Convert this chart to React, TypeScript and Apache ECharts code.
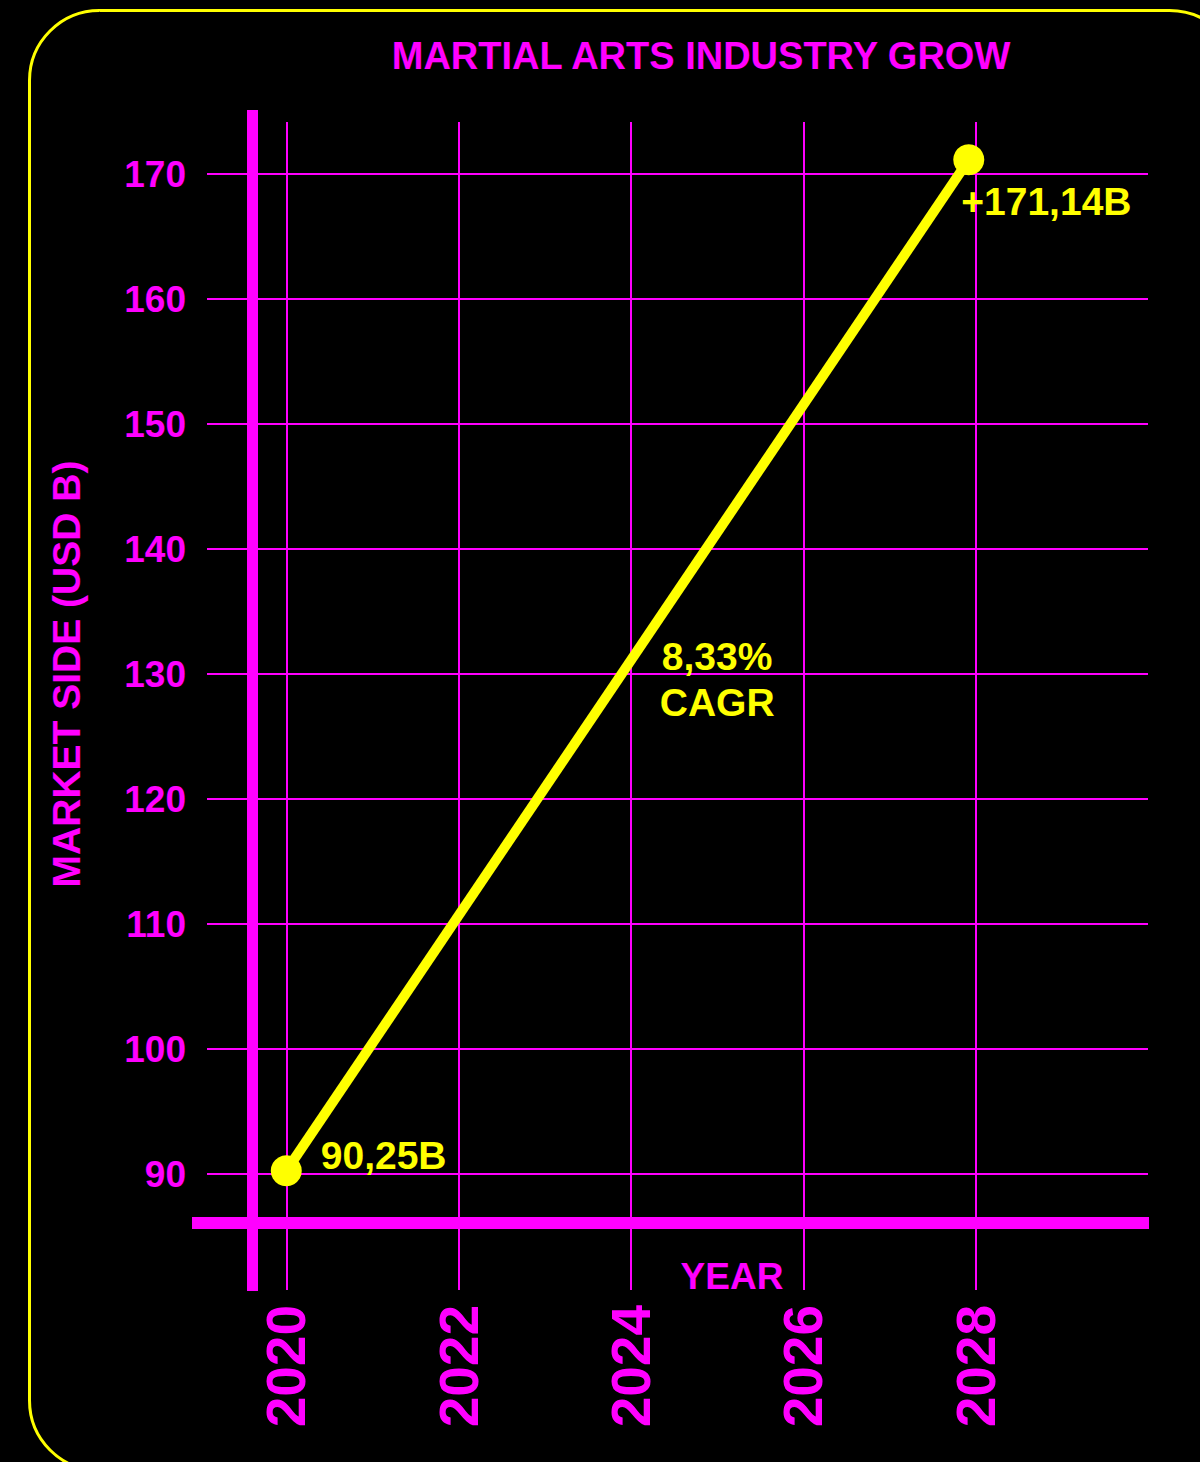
import React, { useEffect, useRef } from 'react';
import * as echarts from 'echarts';

// ---- data ----
const years = [2020, 2027.92];
const marketSize = [90.25, 171.14];
const pointLabels = ['90,25B', '+171,14B'];
const yearTicks = [2020, 2022, 2024, 2026, 2028];
const yMin = 90;
const yMax = 170;
const yStep = 10;
const cagrLines = ['8,33%', 'CAGR'];
const cagrAnchor = [2025, 129.6];

const titleText = 'MARTIAL ARTS INDUSTRY GROW';
const yName = 'MARKET SIDE (USD B)';
const xName = 'YEAR';

// ---- styles ----
const MAG = '#ff00ff';
const YEL = '#ffff00';
const FONT = '"Liberation Sans", Arial, Helvetica, sans-serif';

const pointLabelStyles: any[] = [
  { position: [50, 0], align: 'left', verticalAlign: 'middle' },
  { position: [8, 57], align: 'left', verticalAlign: 'middle' },
];

export default function App() {
  const ref = useRef<HTMLDivElement>(null);

  useEffect(() => {
    if (!ref.current) return;
    const chart = echarts.init(ref.current, undefined, { renderer: 'svg' });

    const option: any = {
      animation: false,
      backgroundColor: '#000000',
      textStyle: { fontFamily: FONT },
      grid: [
        { left: 207, right: 52, top: 174, bottom: 288 },
        { left: 114, right: 52, top: 122, bottom: 172 },
        { left: 252.5, right: 52, top: 110, bottom: 171 },
        { left: 192, right: 51, top: 600, bottom: 239 },
      ],
      xAxis: [
        { gridIndex: 0, type: 'value', min: 2019.08, max: 2030, show: false },
        {
          gridIndex: 1,
          type: 'value',
          min: 2018,
          max: 2030,
          interval: 2,
          axisLine: { show: false },
          axisTick: { show: false },
          splitLine: {
            show: true,
            showMinLine: false,
            showMaxLine: false,
            lineStyle: { color: MAG, width: 2 },
          },
          axisLabel: {
            rotate: 90,
            margin: 15,
            padding: [7, 0, 0, 0],
            color: MAG,
            fontSize: 55,
            fontWeight: 'bold',
            fontFamily: FONT,
            showMinLabel: false,
            showMaxLabel: false,
            formatter: (v: number) => (yearTicks.includes(v) ? String(v) : ''),
          },
        },
        { gridIndex: 2, type: 'value', min: 0, max: 1, show: false },
        {
          gridIndex: 3,
          type: 'value',
          min: 0,
          max: 1,
          axisLine: {
            show: true,
            onZero: false,
            lineStyle: { color: MAG, width: 12, cap: 'butt' },
          },
          axisTick: { show: false },
          axisLabel: { show: false },
          splitLine: { show: false },
        },
      ],
      yAxis: [
        {
          gridIndex: 0,
          type: 'value',
          min: yMin,
          max: yMax,
          interval: yStep,
          axisLine: { show: false },
          axisTick: { show: false },
          splitLine: { show: true, lineStyle: { color: MAG, width: 2 } },
          axisLabel: {
            margin: 21,
            color: MAG,
            fontSize: 37,
            fontWeight: 'bold',
            fontFamily: FONT,
          },
          name: yName,
          nameLocation: 'middle',
          nameRotate: 90,
          nameGap: 121,
          nameTextStyle: {
            color: MAG,
            fontSize: 39,
            fontWeight: 'bold',
            fontFamily: FONT,
          },
        },
        { gridIndex: 1, type: 'value', min: 0, max: 1, show: false },
        {
          gridIndex: 2,
          type: 'value',
          min: 0,
          max: 1,
          axisLine: {
            show: true,
            onZero: false,
            lineStyle: { color: MAG, width: 11, cap: 'butt' },
          },
          axisTick: { show: false },
          axisLabel: { show: false },
          splitLine: { show: false },
        },
        { gridIndex: 3, type: 'value', min: 0, max: 1, show: false },
      ],
      graphic: [
        {
          type: 'rect',
          silent: true,
          shape: { x: 29.5, y: 10.5, width: 1210, height: 1460, r: 70 },
          style: { fill: 'none', stroke: YEL, lineWidth: 3 },
        },
        {
          type: 'text',
          x: 701,
          y: 56,
          style: {
            text: titleText,
            fill: MAG,
            font: `bold 38px ${FONT}`,
            textAlign: 'center',
            textVerticalAlign: 'middle',
          },
        },
        {
          type: 'text',
          x: 732,
          y: 1276,
          style: {
            text: xName,
            fill: MAG,
            font: `bold 37px ${FONT}`,
            textAlign: 'center',
            textVerticalAlign: 'middle',
          },
        },
      ],
      series: [
        {
          type: 'line',
          xAxisIndex: 0,
          yAxisIndex: 0,
          clip: false,
          symbol: 'circle',
          symbolSize: 31,
          showAllSymbol: true,
          itemStyle: { color: YEL },
          lineStyle: { color: YEL, width: 10 },
          label: {
            show: true,
            color: YEL,
            fontSize: 39,
            fontWeight: 'bold',
            fontFamily: FONT,
          },
          data: years.map((x, i) => ({
            value: [x, marketSize[i]],
            label: { ...pointLabelStyles[i], formatter: pointLabels[i] },
          })),
          markPoint: {
            symbol: 'circle',
            symbolSize: 1,
            itemStyle: { color: 'rgba(0,0,0,0)' },
            label: {
              show: true,
              position: 'inside',
              formatter: cagrLines.join('\n'),
              color: YEL,
              fontSize: 39,
              fontWeight: 'bold',
              fontFamily: FONT,
              lineHeight: 46,
              align: 'center',
            },
            data: [{ coord: cagrAnchor }],
          },
        },
      ],
    };

    chart.setOption(option);
    return () => chart.dispose();
  }, []);

  return (
    <div
      ref={ref}
      style={{
        position: 'absolute',
        left: 0,
        top: 0,
        width: 1200,
        height: 1462,
        background: '#000',
      }}
    />
  );
}
